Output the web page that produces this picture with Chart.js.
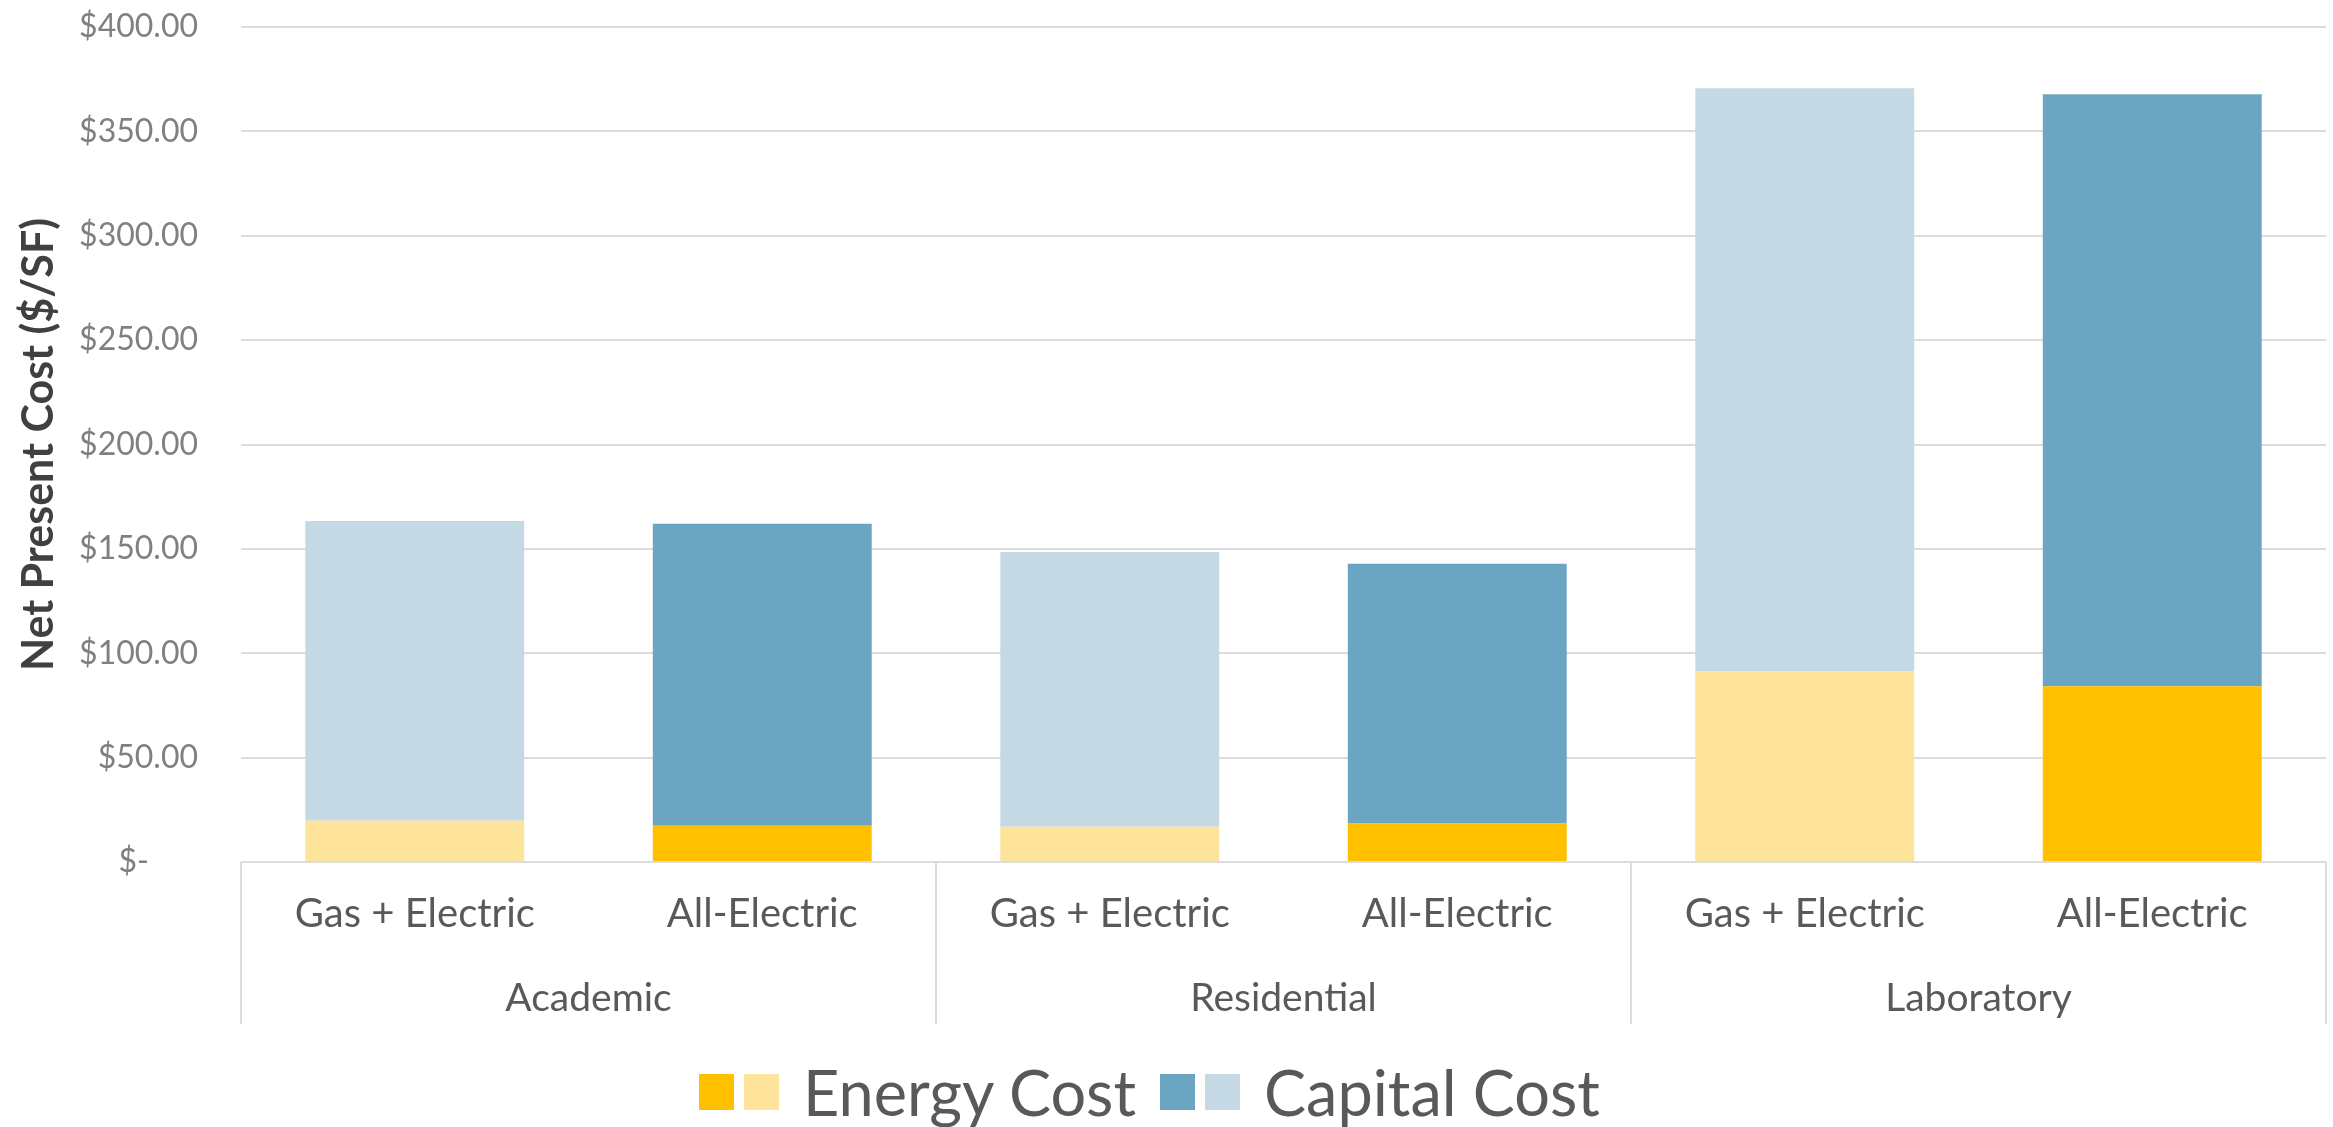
<!DOCTYPE html>
<html><head><meta charset="utf-8">
<script src="https://cdn.jsdelivr.net/npm/chart.js@4.4.1/dist/chart.umd.min.js"></script>
<style>
html,body{margin:0;padding:0;background:#fff;}
#wrap{position:relative;width:2333px;height:1127px;overflow:hidden;}
canvas{position:absolute;left:0;top:0;}
#legend{position:absolute;left:699px;top:1060px;height:64px;display:flex;align-items:center;font-family:Lato,sans-serif;font-size:63px;color:#595959;white-space:nowrap;}
#legend .box{width:35px;height:36px;flex:none;}
#legend .txt{line-height:64px;}
</style></head><body>
<div id="wrap">
<canvas id="c" width="2333" height="1127"></canvas>
<div id="legend">
  <span class="box" style="background:#FFC000;margin-right:10px"></span>
  <span class="box" style="background:#FDE49A;margin-right:24px"></span>
  <span class="txt" style="margin-right:24px">Energy Cost</span>
  <span class="box" style="background:#6BA5C1;margin-right:10px"></span>
  <span class="box" style="background:#C4D9E4;margin-right:24px"></span>
  <span class="txt">Capital Cost</span>
</div>
</div>
<script>
// ---- data ----
const subCategories = ['Gas + Electric', 'All-Electric', 'Gas + Electric', 'All-Electric', 'Gas + Electric', 'All-Electric'];
const groups = ['Academic', 'Residential', 'Laboratory'];
const energyCost = [19.8, 17.4, 16.9, 18.5, 91.4, 84.2];
const capitalCost = [143.5, 144.6, 131.6, 124.4, 279.3, 283.6];
const yMin = 0, yMax = 400, yStep = 50;
const yTitle = 'Net Present Cost ($/SF)';

// ---- styles ----
const energyColors = ['#FDE49A', '#FFC000', '#FDE49A', '#FFC000', '#FDE49A', '#FFC000'];
const capitalColors = ['#C4D9E4', '#6BA5C1', '#C4D9E4', '#6BA5C1', '#C4D9E4', '#6BA5C1'];
const gridColor = '#dcdcdc';
const FONT = 'Lato, sans-serif';

function yLabel(v) {
  if (v === 0) return '$-      ';
  return '$' + Number(v).toFixed(2);
}

const separatorPlugin = {
  id: 'separators',
  afterDraw(chart) {
    const x = chart.scales.x, x2 = chart.scales.x2;
    const ctx = chart.ctx;
    const perGroup = subCategories.length / groups.length;
    const xs = [x.left];
    for (let g = 1; g < groups.length; g++) {
      const a = x.getPixelForValue(g * perGroup - 1);
      const b = x.getPixelForValue(g * perGroup);
      xs.push((a + b) / 2);
    }
    xs.push(x.right);
    ctx.save();
    ctx.strokeStyle = gridColor;
    ctx.lineWidth = 2;
    ctx.beginPath();
    xs.forEach(px => {
      ctx.moveTo(Math.round(px), chart.chartArea.bottom);
      ctx.lineTo(Math.round(px), x2.bottom);
    });
    ctx.stroke();
    ctx.restore();
  }
};

new Chart(document.getElementById('c'), {
  type: 'bar',
  data: {
    labels: subCategories,
    datasets: [
      { label: 'Energy Cost', data: energyCost, backgroundColor: energyColors, borderWidth: 0, xAxisID: 'x' },
      { label: 'Capital Cost', data: capitalCost, backgroundColor: capitalColors, borderWidth: 0, xAxisID: 'x' }
    ]
  },
  options: {
    responsive: false,
    animation: false,
    devicePixelRatio: 1,
    layout: { padding: { left: 0, right: 7, top: 27, bottom: 103 } },
    datasets: { bar: { barPercentage: 0.63, categoryPercentage: 1.0 } },
    plugins: { legend: { display: false }, tooltip: { enabled: false } },
    scales: {
      x: {
        type: 'category',
        stacked: true,
        position: 'bottom',
        offset: true,
        grid: { display: false, drawTicks: false },
        border: { display: false },
        ticks: { font: { family: FONT, size: 40 }, color: '#595959', padding: 28, maxRotation: 0, autoSkip: false },
        afterFit(s) { s.height = 100; }
      },
      x2: {
        type: 'category',
        labels: groups,
        position: 'bottom',
        offset: true,
        grid: { display: false, drawTicks: false },
        border: { display: false },
        ticks: { font: { family: FONT, size: 39 }, color: '#595959', padding: 13, maxRotation: 0, autoSkip: false },
        afterFit(s) { s.height = 62; }
      },
      y: {
        stacked: true,
        min: yMin,
        max: yMax,
        ticks: { stepSize: yStep, callback: yLabel, font: { family: FONT, size: 32 }, color: '#808080', padding: 6 },
        grid: { color: gridColor, lineWidth: 2, drawTicks: true, tickLength: 37, tickColor: 'rgba(0,0,0,0)' },
        border: { display: false },
        title: { display: true, text: yTitle, font: { family: FONT, size: 43, weight: 'bold' }, color: '#404040', padding: { top: 13, bottom: 0 } },
        afterFit(s) { s.width = 241; }
      }
    }
  },
  plugins: [separatorPlugin]
});
</script>
</body></html>
